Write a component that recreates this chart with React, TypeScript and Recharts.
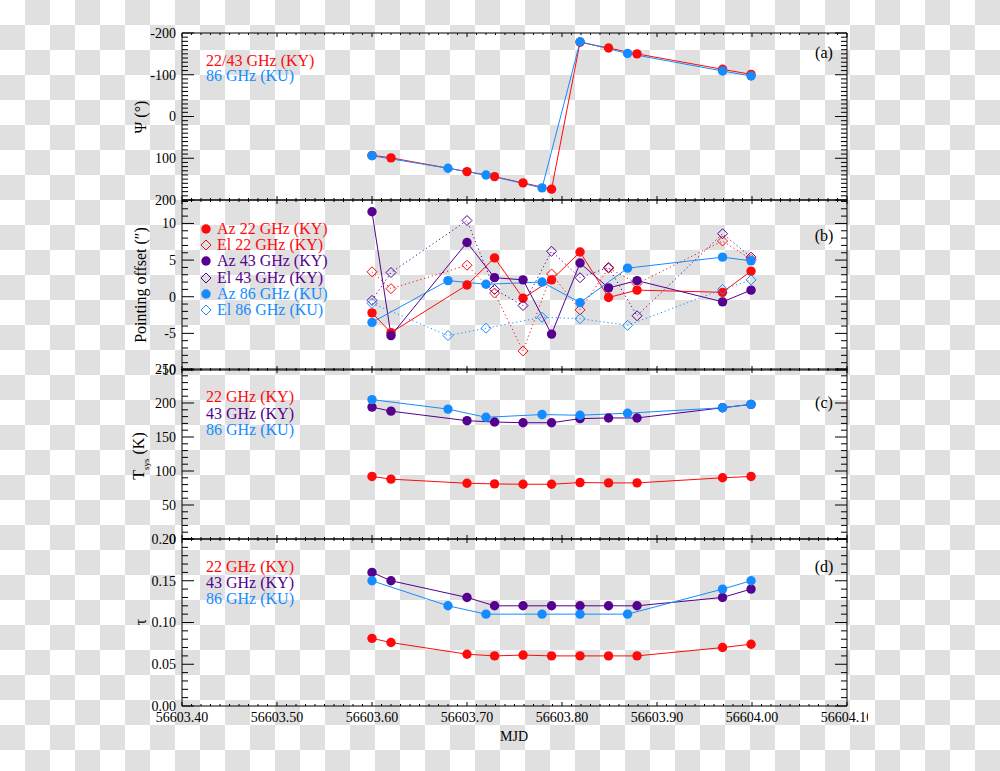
import React from "react";
import { LineChart, Line, XAxis, YAxis } from "recharts";

const RED = "#ff0a0a";
const PURPLE = "#55008f";
const BLUE = "#148cff";
const FONT = "'Liberation Serif', 'Times New Roman', serif";

// sample times (MJD)
const kyTimes = [56603.6, 56603.62, 56603.7, 56603.729, 56603.759, 56603.789, 56603.819, 56603.849, 56603.879, 56603.969, 56603.999];
const kuTimes = [56603.6, 56603.68, 56603.72, 56603.779, 56603.819, 56603.869, 56603.969, 56603.999];

// (a) parallactic angle
const psiKY = [93, 99, 132, 144, 159, 174, -178, -164, -150, -113, -101];
const psiKU = [94, 124, 140, 171, -179, -151, -109, -97];

// (b) pointing offsets
const az22 = [-2.2, -4.9, 1.6, 5.3, -0.2, 2.3, 6.1, -0.1, 0.9, 0.6, 3.5];
const el22 = [3.4, 1.1, 4.3, 0.5, -7.4, 3.1, -1.8, 3.9, 1.8, 7.6, 5.1];
const az43 = [11.6, -5.3, 7.4, 2.6, 2.3, -5.1, 4.6, 1.2, 2.2, -0.7, 0.9];
const el43 = [-0.5, 3.3, 10.4, 1.0, -1.2, 6.2, 2.6, 4.0, -2.6, 8.6, 5.4];
const az86 = [-3.5, 2.2, 1.7, 2.0, -0.8, 3.9, 5.4, 4.9];
const el86 = [-0.9, -5.3, -4.3, -2.8, -3.0, -3.9, 1.0, 2.3];

// (c) system temperature
const tsys22 = [92, 88, 82, 81, 80.5, 80.5, 83, 82.5, 82.5, 90, 92];
const tsys43 = [194, 188, 174, 172, 171, 171, 177, 178, 178, 193, 198];
const tsys86 = [205, 191, 179, 183, 182, 185, 193, 198];

// (d) opacity
const tau22 = [0.081, 0.076, 0.062, 0.06, 0.061, 0.06, 0.06, 0.06, 0.06, 0.07, 0.074];
const tau43 = [0.16, 0.15, 0.13, 0.12, 0.12, 0.12, 0.12, 0.12, 0.12, 0.13, 0.14];
const tau86 = [0.15, 0.12, 0.11, 0.11, 0.11, 0.11, 0.14, 0.15];

// axis ticks
const xMajor = [56603.4, 56603.5, 56603.6, 56603.7, 56603.8, 56603.9, 56604.0, 56604.1];
const psiMajor = [-200, -100, 0, 100, 200];
const offMajor = [-10, -5, 0, 5, 10, 15];
const tsysMajor = [0, 50, 100, 150, 200, 250];
const tauMajor = [0, 0.05, 0.1, 0.15, 0.2];

const rows = (xs: number[], ys: number[]) => xs.map((t, i) => ({ t, v: ys[i] }));

function withMinor(major: number[], sub: number, lo: number, hi: number) {
  const out: number[] = [];
  for (let i = 0; i < major.length - 1; i++) {
    const step = (major[i + 1] - major[i]) / sub;
    for (let k = 0; k < sub; k++) out.push(+(major[i] + k * step).toFixed(6));
  }
  out.push(major[major.length - 1]);
  return out.filter((v) => v >= lo - 1e-9 && v <= hi + 1e-9);
}

type Side = "left" | "right" | "top" | "bottom";

function makeTick(side: Side, major: number[], majLen: number, minLen: number, fmt?: (v: number) => string) {
  return (p: any) => {
    const { x, y, payload } = p;
    const v = payload.value;
    const isMaj = major.some((m) => Math.abs(m - v) < 1e-7);
    const len = isMaj ? majLen : minLen;
    let x2 = x;
    let y2 = y;
    if (side === "left") x2 = x + len;
    if (side === "right") x2 = x - len;
    if (side === "top") y2 = y + len;
    if (side === "bottom") y2 = y - len;
    return (
      <g>
        <line x1={x} y1={y} x2={x2} y2={y2} stroke="#000" strokeWidth={1} />
        {fmt && isMaj && side === "left" && (
          <text x={x - 6} y={y} dy="0.35em" textAnchor="end" fontSize={14} fontFamily={FONT} fill="#000">
            {fmt(v)}
          </text>
        )}
        {fmt && isMaj && side === "bottom" && (
          <text x={x} y={y + 16} textAnchor="middle" fontSize={14} fontFamily={FONT} fill="#000">
            {fmt(v)}
          </text>
        )}
      </g>
    );
  };
}

const diamond = (color: string) => (p: any) => (
  <path
    key={p.index}
    d={`M${p.cx},${p.cy - 5}L${p.cx + 5},${p.cy}L${p.cx},${p.cy + 5}L${p.cx - 5},${p.cy}Z`}
    fill="none"
    stroke={color}
    strokeWidth={1}
  />
);

const circle = (color: string) => ({ r: 4.7, fill: color, stroke: "none" });

type Series = { data: { t: number; v: number }[]; color: string; open?: boolean };

function Panel(props: {
  plotTop: number;
  plotBottom: number;
  domain: [number, number];
  major: number[];
  sub: number;
  fmt: (v: number) => string;
  reversed?: boolean;
  series: Series[];
  xLabels?: boolean;
}) {
  const { plotTop, plotBottom, domain, major, sub, fmt, reversed, series, xLabels } = props;
  const mTop = 15;
  const mBottom = xLabels ? 45 : 15;
  const h = plotBottom - plotTop + mTop + mBottom;
  const yTicks = withMinor(major, sub, domain[0], domain[1]);
  const xTicks = withMinor(xMajor, 10, 56603.4, 56604.1);
  const xFmt = (v: number) => v.toFixed(2);
  return (
    <div style={{ position: "absolute", left: 0, top: plotTop - mTop }}>
      <LineChart width={868} height={h} margin={{ top: mTop - 1, bottom: mBottom - 1, left: 181, right: 20 }}>
        <XAxis
          dataKey="t"
          type="number"
          domain={[56603.4, 56604.1]}
          allowDataOverflow
          ticks={xTicks}
          interval={0}
          height={1}
          tickSize={0}
          tickMargin={0}
          axisLine={{ stroke: "#000" }}
          tickLine={false}
          tick={makeTick("bottom", xMajor, 4, 2, xLabels ? xFmt : undefined)}
        />
        <XAxis
          xAxisId="top"
          orientation="top"
          dataKey="t"
          type="number"
          domain={[56603.4, 56604.1]}
          allowDataOverflow
          ticks={xTicks}
          interval={0}
          height={1}
          tickSize={0}
          tickMargin={0}
          axisLine={{ stroke: "#000" }}
          tickLine={false}
          tick={makeTick("top", xMajor, 4, 2)}
        />
        <YAxis
          type="number"
          domain={domain}
          allowDataOverflow
          reversed={reversed}
          ticks={yTicks}
          interval={0}
          width={1}
          tickSize={0}
          tickMargin={0}
          axisLine={{ stroke: "#000" }}
          tickLine={false}
          tick={makeTick("left", major, 12, 6, fmt)}
        />
        <YAxis
          yAxisId="right"
          orientation="right"
          type="number"
          domain={domain}
          allowDataOverflow
          reversed={reversed}
          ticks={yTicks}
          interval={0}
          width={1}
          tickSize={0}
          tickMargin={0}
          axisLine={{ stroke: "#000" }}
          tickLine={false}
          tick={makeTick("right", major, 12, 6)}
        />
        {/* keeps the mirror axes bound to the same domain */}
        <Line
          xAxisId="top"
          yAxisId="right"
          data={series[0].data}
          dataKey="v"
          stroke="none"
          dot={false}
          activeDot={false}
          isAnimationActive={false}
        />
        {series.map((s, i) => (
          <Line
            key={i}
            data={s.data}
            dataKey="v"
            type="linear"
            stroke={s.color}
            strokeWidth={1}
            strokeDasharray={s.open ? "1.2 2.8" : undefined}
            dot={s.open ? diamond(s.color) : circle(s.color)}
            activeDot={false}
            isAnimationActive={false}
          />
        ))}
      </LineChart>
    </div>
  );
}

function Txt(props: { x: number; y: number; color?: string; size?: number; start?: boolean; rotate?: boolean; children: React.ReactNode }) {
  const { x, y, color = "#000", size = 16, start, rotate, children } = props;
  return (
    <div
      style={{
        position: "absolute",
        left: x,
        top: y,
        transform: `translate(${start ? "0" : "-50%"}, -50%)${rotate ? " rotate(-90deg)" : ""}`,
        color,
        fontSize: size,
        fontFamily: FONT,
        lineHeight: 1,
        whiteSpace: "nowrap",
      }}
    >
      {children}
    </div>
  );
}

function Marker({ x, y, color, open }: { x: number; y: number; color: string; open?: boolean }) {
  return (
    <svg style={{ position: "absolute", left: x - 6, top: y - 6 }} width={12} height={12}>
      {open ? (
        <path d="M6,1L11,6L6,11L1,6Z" fill="none" stroke={color} strokeWidth={1} />
      ) : (
        <circle cx={6} cy={6} r={4.7} fill={color} />
      )}
    </svg>
  );
}

const bLegend = [
  { label: "Az 22 GHz (KY)", color: RED, open: false },
  { label: "El 22 GHz (KY)", color: RED, open: true },
  { label: "Az 43 GHz (KY)", color: PURPLE, open: false },
  { label: "El 43 GHz (KY)", color: PURPLE, open: true },
  { label: "Az 86 GHz (KU)", color: BLUE, open: false },
  { label: "El 86 GHz (KU)", color: BLUE, open: true },
];

export default function App() {
  return (
    <div style={{ position: "absolute", left: 0, top: 0, width: 1000, height: 771, overflow: "hidden", background: "#fff" }}>
      <svg style={{ position: "absolute", left: 0, top: 0 }} width={1000} height={771}>
        <defs>
          <pattern id="checker" width={50} height={50} patternUnits="userSpaceOnUse">
            <rect width={50} height={50} fill="#ffffff" />
            <rect x={25} y={0} width={25} height={25} fill="#e0e0e0" />
            <rect x={0} y={25} width={25} height={25} fill="#e0e0e0" />
          </pattern>
        </defs>
        <rect width={1000} height={771} fill="url(#checker)" />
      </svg>

      <Panel
        plotTop={33}
        plotBottom={200}
        domain={[-200, 200]}
        major={psiMajor}
        sub={10}
        reversed
        fmt={(v) => String(v)}
        series={[
          { data: rows(kyTimes, psiKY), color: RED },
          { data: rows(kuTimes, psiKU), color: BLUE },
        ]}
      />
      <Panel
        plotTop={200}
        plotBottom={370}
        domain={[-10, 13.2]}
        major={offMajor}
        sub={5}
        fmt={(v) => String(v)}
        series={[
          { data: rows(kyTimes, az22), color: RED },
          { data: rows(kyTimes, el22), color: RED, open: true },
          { data: rows(kyTimes, az43), color: PURPLE },
          { data: rows(kyTimes, el43), color: PURPLE, open: true },
          { data: rows(kuTimes, az86), color: BLUE },
          { data: rows(kuTimes, el86), color: BLUE, open: true },
        ]}
      />
      <Panel
        plotTop={369}
        plotBottom={539}
        domain={[0, 250]}
        major={tsysMajor}
        sub={5}
        fmt={(v) => String(v)}
        series={[
          { data: rows(kyTimes, tsys22), color: RED },
          { data: rows(kyTimes, tsys43), color: PURPLE },
          { data: rows(kuTimes, tsys86), color: BLUE },
        ]}
      />
      <Panel
        plotTop={539}
        plotBottom={706}
        domain={[0, 0.2]}
        major={tauMajor}
        sub={5}
        fmt={(v) => v.toFixed(2)}
        xLabels
        series={[
          { data: rows(kyTimes, tau22), color: RED },
          { data: rows(kyTimes, tau43), color: PURPLE },
          { data: rows(kuTimes, tau86), color: BLUE },
        ]}
      />

      {/* axis titles */}
      <Txt x={141} y={117} rotate>Ψ (°)</Txt>
      <Txt x={141} y={285} rotate>Pointing offset (″)</Txt>
      <Txt x={141} y={456} rotate>
        T<sub style={{ fontSize: 9 }}>sys</sub> (K)
      </Txt>
      <Txt x={141} y={622} rotate>τ</Txt>
      <Txt x={514} y={737} size={14}>MJD</Txt>

      {/* panel tags */}
      <Txt x={824} y={53}>(a)</Txt>
      <Txt x={824} y={236}>(b)</Txt>
      <Txt x={824} y={403}>(c)</Txt>
      <Txt x={824} y={567}>(d)</Txt>

      {/* legends */}
      <Txt x={206} y={61} color={RED} start>22/43 GHz (KY)</Txt>
      <Txt x={206} y={76} color={BLUE} start>86 GHz (KU)</Txt>

      {bLegend.map((r, i) => (
        <React.Fragment key={r.label}>
          <Marker x={206} y={229 + i * 16.2} color={r.color} open={r.open} />
          <Txt x={217} y={229 + i * 16.2} color={r.color} start>{r.label}</Txt>
        </React.Fragment>
      ))}

      <Txt x={206} y={397} color={RED} start>22 GHz (KY)</Txt>
      <Txt x={206} y={414} color={PURPLE} start>43 GHz (KY)</Txt>
      <Txt x={206} y={430} color={BLUE} start>86 GHz (KU)</Txt>

      <Txt x={206} y={567} color={RED} start>22 GHz (KY)</Txt>
      <Txt x={206} y={583} color={PURPLE} start>43 GHz (KY)</Txt>
      <Txt x={206} y={599} color={BLUE} start>86 GHz (KU)</Txt>
    </div>
  );
}
